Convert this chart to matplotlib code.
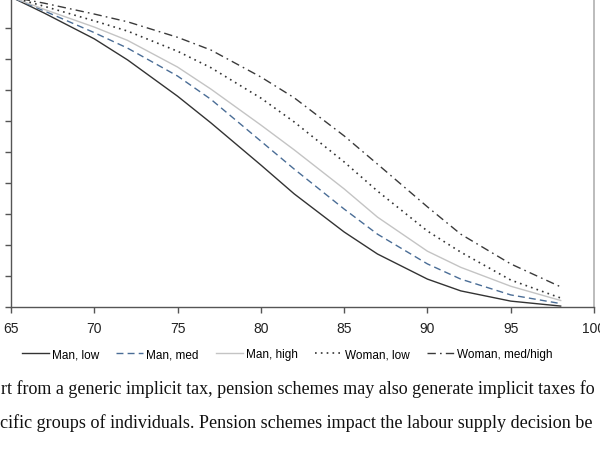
import matplotlib.pyplot as plt

# ages and survival-type shares
ages = [65, 67, 70, 72, 75, 77, 80, 82, 85, 87, 90, 92, 95, 98]

man_low = [1.0, 0.948, 0.865, 0.797, 0.680, 0.594, 0.458, 0.365, 0.242, 0.171, 0.090, 0.052, 0.019, 0.003]
man_med = [1.0, 0.955, 0.885, 0.835, 0.745, 0.67, 0.535, 0.445, 0.316, 0.235, 0.139, 0.090, 0.039, 0.011]
man_high = [1.0, 0.96, 0.903, 0.86, 0.774, 0.703, 0.587, 0.507, 0.381, 0.29, 0.18, 0.128, 0.067, 0.021]
woman_low = [1.0, 0.97, 0.923, 0.89, 0.825, 0.772, 0.674, 0.597, 0.468, 0.374, 0.245, 0.177, 0.087, 0.029]
woman_medhigh = [1.0, 0.98, 0.945, 0.92, 0.87, 0.829, 0.742, 0.675, 0.552, 0.461, 0.323, 0.235, 0.139, 0.065]

xticks = [65, 70, 75, 80, 85, 90, 95, 100]
yticks = [0, 0.1, 0.2, 0.3, 0.4, 0.5, 0.6, 0.7, 0.8, 0.9, 1.0]

para = ["rt from a generic implicit tax, pension schemes may also generate implicit taxes fo",
        "cific groups of individuals. Pension schemes impact the labour supply decision be"]

plt.rcParams['font.family'] = ['Liberation Sans', 'DejaVu Sans']

fig = plt.figure(figsize=(6, 4.52), dpi=100)
ax = fig.add_axes([11/600, 1 - 308/452, 583/600, 310/452])

ax.plot(ages, man_low, color='#333333', lw=1.0, ls='-', label='Man, low')
ax.plot(ages, man_med, color='#4a6d96', lw=1.0, ls=(0, (5, 3)), label='Man, med')
ax.plot(ages, man_high, color='#c4c4c4', lw=1.0, ls='-', label='Man, high')
ax.plot(ages, woman_low, color='#333333', lw=1.2, ls=(0, (1, 2.5)), label='Woman, low')
ax.plot(ages, woman_medhigh, color='#3a3a3a', lw=1.0, ls=(0, (6, 3, 1.2, 3)), label='Woman, med/high')

ax.set_xlim(65, 100)
ax.set_ylim(0, 1.0)
ax.set_xticks(xticks)
ax.set_yticks(yticks)
ax.set_yticklabels(['%.1f' % v for v in yticks])
ax.tick_params(axis='x', direction='out', length=4, width=1, color='#555555',
               labelsize=10, pad=6, labelcolor='#222222')
ax.tick_params(axis='y', direction='out', length=4, width=1, color='#555555',
               labelsize=10, pad=3.5, labelcolor='#222222')
for s in ['left', 'bottom']:
    ax.spines[s].set_color('#555555')
    ax.spines[s].set_linewidth(1.0)
ax.spines['top'].set_visible(False)
ax.spines['right'].set_color('#b0b0b0')
ax.spines['right'].set_linewidth(1.2)

fig.legend(loc='center', bbox_to_anchor=(287/600, 1 - 355/452), ncol=5, frameon=False,
           fontsize=8.5, handlelength=2.3, columnspacing=1.45, handletextpad=0.25)

# page text below the chart
fig.text(0.001, 1 - 394/452, para[0], family='Liberation Serif', fontsize=13.0,
         ha='left', va='baseline', color='#111111')
fig.text(0.0, 1 - 428/452, para[1], family='Liberation Serif', fontsize=13.1,
         ha='left', va='baseline', color='#111111')

fig.savefig('out.png', dpi=100)
